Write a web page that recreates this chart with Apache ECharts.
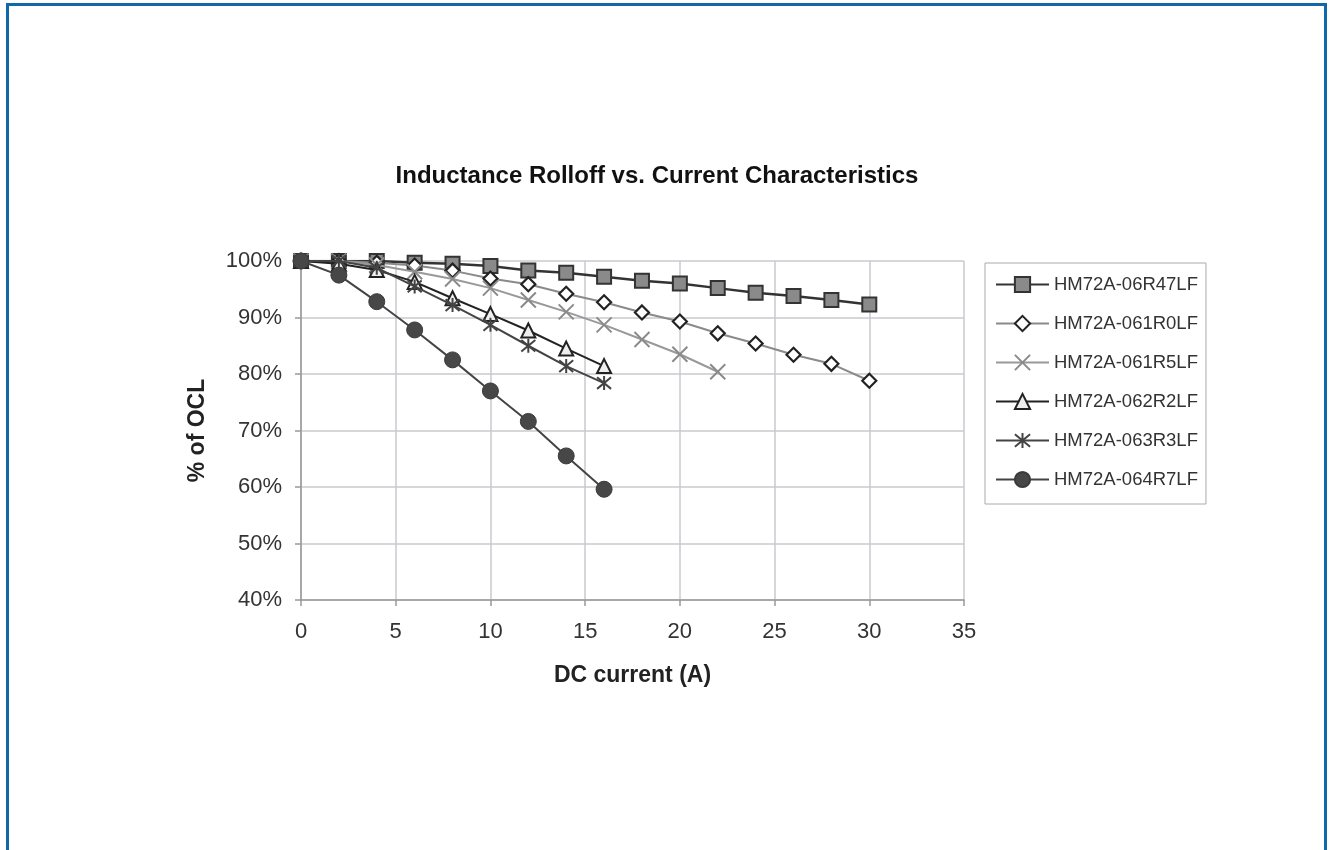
<!DOCTYPE html>
<html>
<head>
<meta charset="utf-8">
<script src="https://cdn.jsdelivr.net/npm/echarts@6/dist/echarts.min.js"></script>
<style>
html,body{margin:0;padding:0;background:#fff;}
#frame{position:absolute;left:6px;top:3px;width:1321px;height:900px;border:3px solid #0f69a8;box-sizing:border-box;}
#chart{position:absolute;left:0;top:0;width:1331px;height:850px;}
</style>
</head>
<body>
<div id="frame"></div>
<div id="chart"></div>
<script>
const seriesNames = ['HM72A-06R47LF','HM72A-061R0LF','HM72A-061R5LF','HM72A-062R2LF','HM72A-063R3LF','HM72A-064R7LF'];
const xTicks = [0,5,10,15,20,25,30,35];
const yTicks = [40,50,60,70,80,90,100];

const x06R47 = [0,2,4,6,8,10,12,14,16,18,20,22,24,26,28,30];
const y06R47 = [100,100,100,99.7,99.5,99.1,98.3,97.9,97.2,96.5,96.0,95.2,94.4,93.8,93.1,92.3];

const x061R0 = [0,2,4,6,8,10,12,14,16,18,20,22,24,26,28,30];
const y061R0 = [100,100,99.7,99.2,98.3,96.9,95.9,94.2,92.7,90.9,89.3,87.2,85.4,83.4,81.8,78.8];

const x061R5 = [0,2,4,6,8,10,12,14,16,18,20,22];
const y061R5 = [100,100,99.3,98.1,96.8,95.2,93.1,91.0,88.7,86.1,83.5,80.4];

const x062R2 = [0,2,4,6,8,10,12,14,16];
const y062R2 = [100,99.5,98.4,96.3,93.4,90.6,87.7,84.5,81.4];

const x063R3 = [0,2,4,6,8,10,12,14,16];
const y063R3 = [100,100,98.8,95.5,92.2,88.7,85.0,81.4,78.4];

const x064R7 = [0,2,4,6,8,10,12,14,16];
const y064R7 = [100,97.5,92.8,87.8,82.5,77.0,71.6,65.5,59.6];

const xs = [x06R47,x061R0,x061R5,x062R2,x063R3,x064R7];
const ys = [y06R47,y061R0,y061R5,y062R2,y063R3,y064R7];

const styles = [
  {line:'#333', lw:2.5, symbol:'rect', size:14, fill:'#8a8a8a', border:'#333', bw:2},
  {line:'#8a8a8a', lw:2, symbol:'diamond', size:14, fill:'#fff', border:'#222', bw:2.2},
  {line:'#999', lw:2, symbol:'path://M0,0L10,10M10,0L0,10', size:15, fill:'rgba(0,0,0,0)', border:'#8a8a8a', bw:2},
  {line:'#222', lw:2, symbol:'triangle', size:14, fill:'#eee', border:'#222', bw:2},
  {line:'#444', lw:2, symbol:'path://M0,0L10,10M10,0L0,10M5,-1L5,11', size:14, fill:'rgba(0,0,0,0)', border:'#444', bw:2},
  {line:'#444', lw:2, symbol:'circle', size:16, fill:'#474747', border:'#3a3a3a', bw:1}
];

const font = 'Liberation Sans, Arial, sans-serif';
const chart = echarts.init(document.getElementById('chart'), null, {renderer:'canvas'});

const series = seriesNames.map((n,i)=>({
  name:n,
  type:'line',
  data: xs[i].map((x,j)=>[x, ys[i][j]]),
  symbol: styles[i].symbol,
  symbolSize: styles[i].size,
  showAllSymbol: true,
  lineStyle:{color:styles[i].line, width:styles[i].lw},
  itemStyle:{color:styles[i].fill, borderColor:styles[i].border, borderWidth:styles[i].bw},
  emphasis:{disabled:true},
  animation:false,
  z: 2+i
}));

chart.setOption({
  backgroundColor:'transparent',
  animation:false,
  title:{
    text:'Inductance Rolloff vs. Current Characteristics',
    left:652, top:159, textAlign:'center',
    textStyle:{fontFamily:font, fontSize:24, fontWeight:'bold', color:'#111'}
  },
  legend:{
    orient:'vertical',
    left:985, top:263,
    width:219,
    padding:[12,8,15,10],
    itemGap:20, itemWidth:53, itemHeight:19,
    borderColor:'#aaa', borderWidth:1,
    textStyle:{fontFamily:font, fontSize:18.5, color:'#333'},
    data: seriesNames
  },
  grid:{left:301, top:261, width:663, height:339, containLabel:false},
  xAxis:{
    type:'value', min:xTicks[0], max:xTicks[xTicks.length-1], interval:5,
    name:'DC current (A)', nameLocation:'middle', nameGap:64,
    nameTextStyle:{fontFamily:font, fontSize:23, fontWeight:'bold', color:'#222'},
    axisLine:{show:true, onZero:false, lineStyle:{color:'#999', width:1.5}},
    axisTick:{show:true, length:6, lineStyle:{color:'#999', width:1.5}},
    axisLabel:{fontFamily:font, fontSize:22, color:'#333', margin:21},
    splitLine:{show:true, lineStyle:{color:'#c8c8cf', width:1.5}}
  },
  yAxis:{
    type:'value', min:yTicks[0], max:yTicks[yTicks.length-1], interval:10,
    name:'% of OCL', nameLocation:'middle', nameGap:92, nameRotate:90,
    nameTextStyle:{fontFamily:font, fontSize:23, fontWeight:'bold', color:'#222'},
    axisLine:{show:true, lineStyle:{color:'#999', width:1.5}},
    axisTick:{show:true, length:6, lineStyle:{color:'#999', width:1.5}},
    axisLabel:{fontFamily:font, fontSize:22, color:'#333', margin:19, formatter:'{value}%'},
    splitLine:{show:true, lineStyle:{color:'#c8c8cf', width:1.5}}
  },
  series: series
});
</script>
</body>
</html>
